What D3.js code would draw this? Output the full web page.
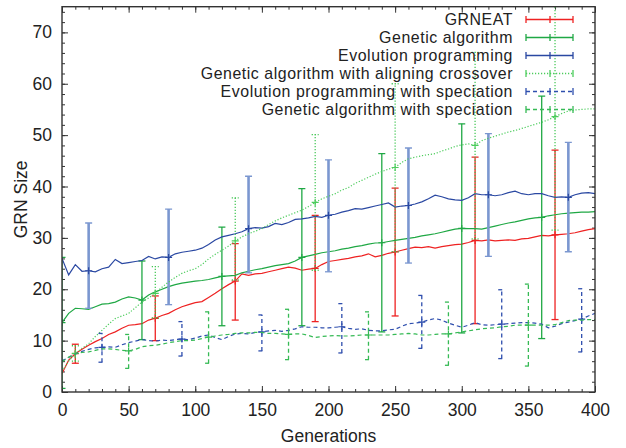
<!DOCTYPE html>
<html>
<head>
<meta charset="utf-8">
<title>GRN Size</title>
<style type="text/css">
  body { margin: 0; background: #fff; }
  svg text { font-family: "Liberation Sans", Arial, Helvetica, sans-serif; fill: #222; }
</style>
</head>
<body>
<script src="https://d3js.org/d3.v7.min.js"></script>
<script type="text/javascript">
// generations sampled every 5
const gens = d3.range(0, 401, 5);

const grneat = [3.6,6.2,7.45,8.3,9.1,9.8,10.4,11.2,11.7,12.4,13.0,13.1,13.3,14.0,14.35,14.9,15.3,16.0,16.6,17.0,
  17.4,17.6,18.4,19.2,20.1,20.9,21.6,23.0,22.7,23.0,23.1,23.4,23.7,24.0,24.3,24.1,23.7,23.9,24.05,24.8,
  25.4,25.6,25.8,26.0,26.3,26.5,26.9,26.3,26.6,27.0,27.25,27.6,27.9,28.2,28.1,28.3,28.0,28.3,28.5,28.7,
  28.8,29.1,29.5,29.4,29.6,29.4,29.5,29.6,29.5,29.8,29.9,30.2,30.5,30.4,30.6,30.7,30.8,31.0,31.3,31.6,31.8];
const ga = [13.5,15.3,16.3,16.2,16.1,16.6,17.1,17.2,17.5,18.1,18.5,18.3,17.9,18.9,19.5,20.0,20.5,20.9,21.2,21.4,
  21.6,21.7,21.9,22.2,22.5,22.6,22.7,23.2,23.5,23.8,24.0,24.3,24.6,24.8,25.0,25.5,26.2,26.5,26.8,27.1,
  27.3,27.5,27.8,28.0,28.3,28.5,28.8,29.0,29.05,29.3,29.5,29.7,29.9,30.1,30.4,30.6,30.8,31.1,31.4,31.7,
  31.85,31.8,31.8,31.7,32.0,32.3,32.6,32.9,33.1,33.4,33.7,33.9,34.0,34.3,34.5,34.7,34.8,34.9,35.0,35.0,35.1];
const ep = [26.0,22.8,24.8,23.5,23.6,23.4,24.0,24.3,25.8,25.0,25.2,25.4,25.6,26.4,25.9,26.3,26.2,26.9,27.2,27.4,
  27.6,28.0,28.7,29.6,30.2,30.5,30.8,31.2,31.8,32.0,31.9,32.2,32.8,32.6,33.0,33.6,33.7,33.9,34.2,34.0,
  34.4,34.6,35.0,35.3,35.7,35.6,35.9,36.2,36.5,36.8,36.0,36.2,36.3,36.6,37.0,37.6,38.3,38.0,37.6,37.4,
  37.3,37.8,38.6,38.4,38.4,38.2,38.4,38.8,39.1,38.6,38.4,38.6,38.6,38.2,37.9,38.0,37.9,38.4,38.7,38.8,38.6];
const gaAlign = [4.0,6.0,7.5,8.5,9.4,10.8,12.0,13.2,14.3,14.8,15.3,16.4,17.5,18.3,19.2,20.4,21.4,22.3,23.1,23.6,
  24.0,24.8,25.9,26.8,27.6,28.4,29.4,30.2,30.8,31.3,31.8,32.6,33.3,33.9,34.4,34.9,35.4,36.1,36.9,37.6,
  38.1,38.6,39.3,39.8,40.6,41.2,41.8,42.4,42.9,43.4,43.7,44.7,45.4,45.7,46.0,46.2,46.4,46.9,47.3,47.8,
  48.1,48.3,48.0,48.9,49.4,49.8,50.2,50.6,50.9,51.3,51.7,52.1,52.5,53.0,53.6,54.2,54.7,54.9,55.0,55.1,55.1];
const epSpec = [6.1,6.7,7.4,7.9,8.3,8.6,8.7,8.8,8.7,9.2,9.6,9.9,10.2,10.0,9.9,10.1,10.0,10.2,10.3,10.2,
  10.5,10.9,11.1,10.6,10.2,10.8,11.3,11.4,11.3,11.6,11.7,11.9,12.0,11.8,12.0,12.3,12.7,12.6,12.6,12.5,
  12.5,12.6,12.7,12.4,12.2,12.3,12.0,11.9,11.9,12.1,12.2,12.8,13.3,13.4,13.6,14.0,14.3,14.0,13.4,13.0,
  12.6,13.0,13.5,13.1,13.0,13.1,13.2,13.3,13.4,13.5,13.5,13.4,13.2,12.5,12.8,13.3,13.6,13.9,14.2,14.8,15.3];
const gaSpec = [5.9,6.8,7.4,7.7,7.8,8.1,8.4,8.4,8.3,8.1,8.0,8.3,8.8,9.0,9.1,9.3,9.6,9.8,10.0,10.0,
  10.1,10.4,10.7,10.9,11.1,11.2,11.4,11.5,11.5,11.6,11.6,11.4,11.4,11.3,11.2,11.3,11.3,11.0,10.6,10.8,
  10.9,11.0,10.9,10.9,11.0,11.1,11.1,11.1,11.1,11.1,11.2,11.3,11.4,11.3,11.1,11.1,11.2,11.3,11.3,11.5,
  11.7,11.9,12.1,12.3,12.4,12.5,12.7,12.8,13.0,13.0,13.0,13.0,13.0,13.0,13.1,13.5,13.9,14.0,14.0,14.1,14.1];

// error bars: generation, low, high
const grneatBarGen = [10,70,130,190,250,310,370];
const grneatBarLo  = [5.6,10.0,14.0,13.7,14.8,13.3,14.1];
const grneatBarHi  = [9.3,18.7,28.9,34.4,39.7,45.7,47.1];
const gaBarGen = [0,60,120,180,240,300,360];
const gaBarLo  = [0.7,10.2,12.9,12.9,11.7,11.5,10.4];
const gaBarHi  = [26.2,25.5,32.1,39.6,46.4,52.2,57.6];
const epBarGen = [20,80,140,200,260,320,380];
const epBarLo  = [16.3,17.0,23.2,23.4,25.1,26.4,27.3];
const epBarHi  = [32.9,35.6,42.0,45.2,47.5,50.3,48.6];
const gaAlignBarGen = [10,70,130,190,250,310,370];
const gaAlignBarLo  = [6.0,14.4,21.8,23.7,27.3,29.8,31.5];
const gaAlignBarHi  = [9.0,24.4,37.8,50.1,60.0,66.1,75.7];
const epSpecBarGen = [30,90,150,210,270,330,390];
const epSpecBarLo  = [5.8,7.0,8.0,7.6,8.5,6.5,7.8];
const epSpecBarHi  = [11.4,13.7,15.0,17.2,18.8,19.9,20.1];
const gaSpecBarGen = [50,110,170,230,290,350];
const gaSpecBarLo  = [4.6,5.6,6.3,6.3,5.2,5.05];
const gaSpecBarHi  = [11.2,15.6,16.1,15.6,17.5,21.0];

const seriesNames = ["GRNEAT", "Genetic algorithm", "Evolution programming",
  "Genetic algorithm with aligning crossover", "Evolution programming with speciation",
  "Genetic algorithm with speciation"];

const xTicks = [0,50,100,150,200,250,300,350,400];
const yTicks = [0,10,20,30,40,50,60,70];

// styles
const series = [
  {name: seriesNames[0], vals: grneat, bg: grneatBarGen, lo: grneatBarLo, hi: grneatBarHi,
   color: "#ee2222", barColor: "#ee2222", barW: 1.3, dash: null},
  {name: seriesNames[1], vals: ga, bg: gaBarGen, lo: gaBarLo, hi: gaBarHi,
   color: "#1fa844", barColor: "#1fa844", barW: 1.3, dash: null},
  {name: seriesNames[2], vals: ep, bg: epBarGen, lo: epBarLo, hi: epBarHi,
   color: "#2a48a2", barColor: "#7b97d0", barW: 2.6, dash: null},
  {name: seriesNames[3], vals: gaAlign, bg: gaAlignBarGen, lo: gaAlignBarLo, hi: gaAlignBarHi,
   color: "#4ccc5c", barColor: "#3cc44e", barW: 1.2, dash: "1.2,1.8"},
  {name: seriesNames[4], vals: epSpec, bg: epSpecBarGen, lo: epSpecBarLo, hi: epSpecBarHi,
   color: "#2f4fae", barColor: "#2f4fae", barW: 1.3, dash: "4,3"},
  {name: seriesNames[5], vals: gaSpec, bg: gaSpecBarGen, lo: gaSpecBarLo, hi: gaSpecBarHi,
   color: "#36ba55", barColor: "#36ba55", barW: 1.3, dash: "4,3"}
];

const w = 626, h = 448;
const margin = {top: 6.7, right: 31, bottom: 56, left: 62};
const inner_w = w - margin.left - margin.right;
const inner_h = h - margin.top - margin.bottom;

const svg = d3.select("body").append("svg").attr("width", w).attr("height", h);
const g = svg.append("g").attr("transform", `translate(${margin.left},${margin.top})`);

const x = d3.scaleLinear().domain([0, 400]).range([0, inner_w]);
const y = d3.scaleLinear().domain([0, 75]).range([inner_h, 0]);

svg.append("defs").append("clipPath").attr("id", "clip")
  .append("rect").attr("width", inner_w).attr("height", inner_h);

// minor ticks (all four sides, inward)
const minorX = d3.range(0, 401, 10), minorY = d3.range(0, 75, 2);
function tickGroup(axis, tf) {
  const a = g.append("g").attr("transform", tf).call(axis);
  a.select(".domain").remove();
  a.selectAll("line").attr("stroke", "#333").attr("stroke-width", 1);
  return a;
}
tickGroup(d3.axisBottom(x).tickValues(minorX).tickSize(-3).tickFormat(""), `translate(0,${inner_h})`);
tickGroup(d3.axisTop(x).tickValues(minorX).tickSize(-3).tickFormat(""), "translate(0,0)");
tickGroup(d3.axisLeft(y).tickValues(minorY).tickSize(-3).tickFormat(""), "translate(0,0)");
tickGroup(d3.axisRight(y).tickValues(minorY).tickSize(-3).tickFormat(""), `translate(${inner_w},0)`);

const xAx = tickGroup(d3.axisBottom(x).tickValues(xTicks).tickSize(-6).tickPadding(12), `translate(0,${inner_h})`);
tickGroup(d3.axisTop(x).tickValues(xTicks).tickSize(-6).tickFormat(""), "translate(0,0)");
const yAx = tickGroup(d3.axisLeft(y).tickValues(yTicks).tickSize(-6).tickPadding(10), "translate(0,0)");
tickGroup(d3.axisRight(y).tickValues(yTicks).tickSize(-6).tickFormat(""), `translate(${inner_w},0)`);
[xAx, yAx].forEach(a => a.selectAll("text").attr("font-size", 17.5)
  .attr("font-family", "Liberation Sans, Arial, sans-serif").attr("fill", "#222"));

// data
const plot = g.append("g").attr("clip-path", "url(#clip)");
const line = d3.line().x((d, i) => x(gens[i])).y(d => y(d));

series.forEach(s => {
  const sg = plot.append("g");
  sg.append("path").datum(s.vals)
    .attr("d", line).attr("fill", "none")
    .attr("stroke", s.color).attr("stroke-width", 1.2)
    .attr("stroke-dasharray", s.dash);
  s.bg.forEach((gen, i) => {
    const cx = x(gen), v = s.vals[gens.indexOf(gen)];
    const bar = sg.append("g").attr("stroke", s.barColor).attr("fill", "none")
      .attr("stroke-dasharray", s.dash);
    bar.append("line").attr("x1", cx).attr("x2", cx).attr("y1", y(s.lo[i])).attr("y2", y(s.hi[i]))
      .attr("stroke-width", s.barW);
    [s.lo[i], s.hi[i]].forEach(b => bar.append("line")
      .attr("x1", cx - 3.5).attr("x2", cx + 3.5).attr("y1", y(b)).attr("y2", y(b))
      .attr("stroke-width", 1.3));
    sg.append("path").attr("d", `M${cx - 3.5},${y(v)}H${cx + 3.5}M${cx},${y(v) - 3.5}V${y(v) + 3.5}`)
      .attr("stroke", s.color).attr("stroke-width", 1.2);
  });
});

// frame
g.append("rect").attr("width", inner_w).attr("height", inner_h)
  .attr("fill", "none").attr("stroke", "#333").attr("stroke-width", 1.4);

// legend
const leg = svg.append("g").attr("transform", "translate(0,19.5)");
series.forEach((s, i) => {
  const ly = i * 18;
  leg.append("text").attr("x", 513).attr("y", ly).attr("dy", "0.35em")
    .attr("text-anchor", "end").attr("font-size", 15.9).attr("letter-spacing", 0.55)
    .text(s.name);
  const lg = leg.append("g").attr("stroke", s.color).attr("fill", "none").attr("stroke-width", 1.3);
  lg.append("line").attr("x1", 526).attr("x2", 573).attr("y1", ly).attr("y2", ly)
    .attr("stroke-dasharray", s.dash);
  [526, 573].forEach(cx => lg.append("line").attr("x1", cx).attr("x2", cx)
    .attr("y1", ly - 3.5).attr("y2", ly + 3.5));
  lg.append("line").attr("x1", 550).attr("x2", 550).attr("y1", ly - 3.5).attr("y2", ly + 3.5);
});

// axis titles
svg.append("text").attr("x", margin.left + inner_w / 2).attr("y", 442)
  .attr("text-anchor", "middle").attr("font-size", 17.5).text("Generations");
svg.append("text").attr("transform", `translate(27,${margin.top + inner_h / 2}) rotate(-90)`)
  .attr("text-anchor", "middle").attr("font-size", 17.5).text("GRN Size");
</script>
</body>
</html>
